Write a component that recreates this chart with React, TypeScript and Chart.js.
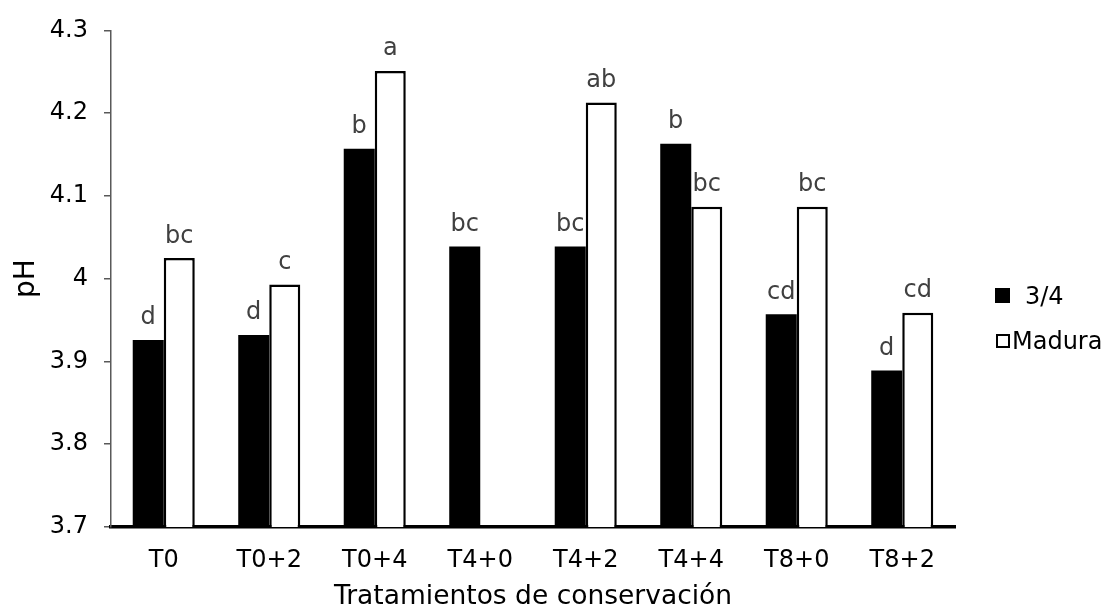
import { useEffect, useRef } from "react";
import { Chart, registerables } from "chart.js";

Chart.register(...registerables);

const FONT = "'DejaVu Sans', Verdana, sans-serif";

const categories = ["T0", "T0+2", "T0+4", "T4+0", "T4+2", "T4+4", "T8+0", "T8+2"];
const seriesNames = ["3/4", "Madura"];
const values34 = [3.926, 3.932, 4.157, 4.039, 4.039, 4.163, 3.957, 3.889];
const valuesMadura: (number | null)[] = [4.025, 3.993, 4.251, null, 4.213, 4.087, 4.087, 3.959];
const letters34 = ["d", "d", "b", "bc", "bc", "b", "cd", "d"];
const lettersMadura = ["bc", "c", "a", "", "ab", "bc", "bc", "cd"];
const yMin = 3.7;
const yMax = 4.3;
const yStep = 0.1;
const xTitle = "Tratamientos de conservación";
const yTitle = "pH";

const lettersPlugin = {
  id: "letters",
  afterDatasetsDraw(chart: any) {
    const ctx = chart.ctx;
    ctx.save();
    ctx.font = `24px ${FONT}`;
    ctx.fillStyle = "#404040";
    ctx.textAlign = "center";
    ctx.textBaseline = "alphabetic";
    [letters34, lettersMadura].forEach((letters, di) => {
      const meta = chart.getDatasetMeta(di);
      meta.data.forEach((el: any, i: number) => {
        const t = letters[i];
        const v = chart.data.datasets[di].data[i];
        if (!t || v == null) return;
        ctx.fillText(t, el.x, el.y - 15.5);
      });
    });
    ctx.restore();
  },
};

const legendPlugin = {
  id: "customLegend",
  afterDraw(chart: any) {
    const ctx = chart.ctx;
    ctx.save();
    ctx.font = `24px ${FONT}`;
    ctx.fillStyle = "#000";
    ctx.textAlign = "left";
    ctx.textBaseline = "alphabetic";
    ctx.fillRect(995, 288, 15, 15);
    ctx.fillText(seriesNames[0], 1025, 304);
    ctx.strokeStyle = "#000";
    ctx.lineWidth = 2;
    ctx.strokeRect(997, 335, 12, 12);
    ctx.fillText(seriesNames[1], 1012, 349);
    ctx.restore();
  },
};

export default function App() {
  const ref = useRef<HTMLCanvasElement>(null);
  useEffect(() => {
    const chart = new Chart(ref.current!, {
      type: "bar",
      data: {
        labels: categories,
        datasets: [
          {
            label: seriesNames[0],
            data: values34,
            backgroundColor: "#000",
            borderColor: "#000",
            borderWidth: 0,
            categoryPercentage: 0.588,
            barPercentage: 1,
          },
          {
            label: seriesNames[1],
            data: valuesMadura,
            backgroundColor: "#fff",
            borderColor: "#000",
            borderWidth: 2.5,
            categoryPercentage: 0.588,
            barPercentage: 1,
          },
        ],
      },
      options: {
        responsive: false,
        animation: false,
        layout: { padding: { top: 19, right: 154, left: 0, bottom: 0 } },
        plugins: {
          legend: { display: false },
          tooltip: { enabled: false },
        },
        scales: {
          x: {
            z: 1,
            grid: { display: false, drawTicks: false },
            border: { display: true, color: "#000", width: 3.5 },
            ticks: { font: { family: FONT, size: 24 }, color: "#000", padding: 19 },
            title: {
              display: true,
              text: xTitle,
              font: { family: FONT, size: 26.5, lineHeight: 1.05 },
              color: "#000",
              padding: { top: 0, bottom: 0 },
            },
            afterFit: (s: any) => {
              s.height = 84;
            },
          },
          y: {
            min: yMin,
            max: yMax,
            grid: {
              drawOnChartArea: false,
              drawTicks: true,
              tickLength: 7,
              color: "#595959",
              lineWidth: 1.5,
            },
            border: { color: "#595959", width: 1.5 },
            ticks: {
              stepSize: yStep,
              font: { family: FONT, size: 24 },
              color: "#000",
              padding: 16,
              callback: (v: any) => String(Math.round(Number(v) * 10) / 10),
            },
            title: {
              display: true,
              text: yTitle,
              font: { family: FONT, size: 28 },
              color: "#000",
              padding: { top: 10, bottom: 0 },
            },
            afterFit: (s: any) => {
              s.width = 111;
            },
          },
        },
      } as any,
      plugins: [lettersPlugin, legendPlugin],
    });
    return () => chart.destroy();
  }, []);
  return (
    <div style={{ position: "fixed", left: 0, top: 0, width: 1109, height: 611, background: "#fff" }}>
      <canvas ref={ref} width={1109} height={611} />
    </div>
  );
}
